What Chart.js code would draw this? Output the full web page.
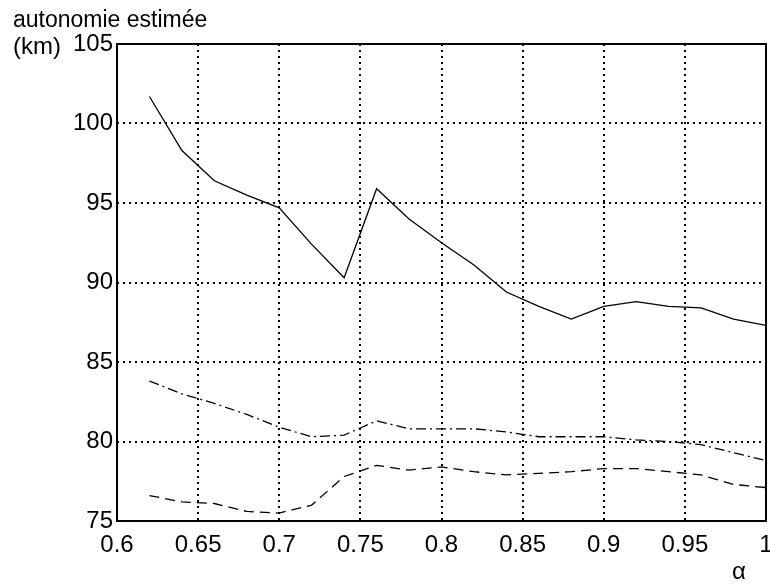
<!DOCTYPE html>
<html>
<head>
<meta charset="utf-8">
<script src="https://cdn.jsdelivr.net/npm/chart.js@4/dist/chart.umd.min.js"></script>
<style>
  html, body { margin: 0; padding: 0; background: #fff; }
  #wrap { width: 770px; height: 585px; position: relative; }
</style>
</head>
<body>
<div id="wrap"><canvas id="myChart"></canvas></div>
<script>
const alpha = [0.62, 0.64, 0.66, 0.68, 0.70, 0.72, 0.74, 0.76, 0.78, 0.80,
               0.82, 0.84, 0.86, 0.88, 0.90, 0.92, 0.94, 0.96, 0.98, 1.00];
const solidKm = [101.7, 98.3, 96.4, 95.5, 94.7, 92.4, 90.3, 95.9, 94.0, 92.5,
                 91.1, 89.4, 88.5, 87.7, 88.5, 88.8, 88.5, 88.4, 87.7, 87.3];
const dashDotKm = [83.8, 83.0, 82.4, 81.7, 80.9, 80.3, 80.4, 81.3, 80.8, 80.8,
                   80.8, 80.6, 80.3, 80.3, 80.3, 80.1, 80.0, 79.8, 79.3, 78.8];
const dashedKm = [76.6, 76.2, 76.1, 75.6, 75.5, 76.0, 77.8, 78.5, 78.2, 78.4,
                  78.1, 77.9, 78.0, 78.1, 78.3, 78.3, 78.1, 77.9, 77.3, 77.1];

const FONT = 'Liberation Sans, Arial, sans-serif';

function pts(ys) {
  return alpha.map((a, i) => ({ x: a, y: ys[i] }));
}

// texte et cadre façon Matlab
const decor = {
  id: 'decor',
  afterDraw(chart) {
    const { ctx, chartArea: a } = chart;
    ctx.save();
    ctx.strokeStyle = '#000';
    ctx.lineWidth = 2;
    ctx.setLineDash([]);
    ctx.strokeRect(a.left, a.top, a.right - a.left, a.bottom - a.top);
    ctx.fillStyle = '#000';
    ctx.font = '23px ' + FONT;
    ctx.textAlign = 'left';
    ctx.textBaseline = 'alphabetic';
    ctx.fillText('autonomie estimée', 13, 27);
    ctx.font = '24px ' + FONT;
    ctx.textBaseline = 'middle';
    ctx.fillText('(km)', 13, 47);
    ctx.textAlign = 'center';
    ctx.fillText('α', 739, 572);
    ctx.restore();
  }
};

const ctx = document.getElementById('myChart');

new Chart(ctx, {
  type: 'line',
  data: {
    datasets: [
      { data: pts(solidKm), borderColor: '#000', borderWidth: 1.3, pointRadius: 0, fill: false },
      { data: pts(dashDotKm), borderColor: '#000', borderWidth: 1.3, borderDash: [10, 4, 2, 4], pointRadius: 0, fill: false },
      { data: pts(dashedKm), borderColor: '#000', borderWidth: 1.3, borderDash: [10, 6], pointRadius: 0, fill: false }
    ]
  },
  options: {
    responsive: true,
    maintainAspectRatio: false,
    animation: false,
    layout: { padding: { top: 44, right: 4, left: 0, bottom: 0 } },
    plugins: {
      legend: { display: false },
      tooltip: { enabled: false }
    },
    scales: {
      x: {
        type: 'linear',
        min: 0.6,
        max: 1,
        afterFit(s) { s.height = 64; s.paddingRight = 0; s.paddingLeft = 0; },
        ticks: {
          stepSize: 0.05,
          color: '#000',
          padding: 10,
          maxRotation: 0,
          font: { family: FONT, size: 24 },
          callback: v => String(Number(v.toFixed(2)))
        },
        grid: { color: '#000', lineWidth: 2, drawTicks: false },
        border: { display: false, dash: [2, 4] }
      },
      y: {
        min: 75,
        max: 105,
        afterFit(s) { s.width = 117; s.paddingTop = 0; s.paddingBottom = 0; },
        ticks: {
          stepSize: 5,
          color: '#000',
          padding: 4,
          font: { family: FONT, size: 24 }
        },
        grid: { color: '#000', lineWidth: 2, drawTicks: false },
        border: { display: false, dash: [2, 4] }
      }
    }
  },
  plugins: [decor]
});
</script>
</body>
</html>
